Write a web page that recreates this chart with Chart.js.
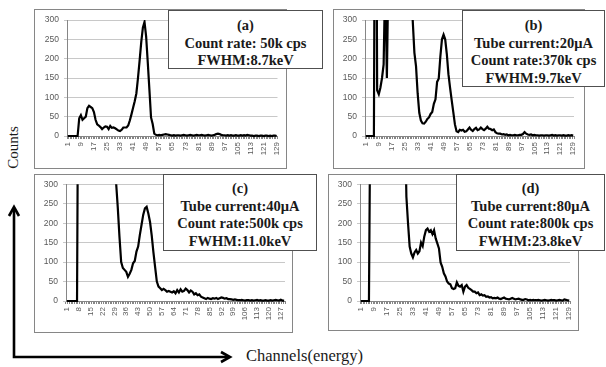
<!DOCTYPE html>
<html><head><meta charset="utf-8">
<script src="https://cdn.jsdelivr.net/npm/chart.js@4"></script>
<style>
html,body{margin:0;padding:0;background:#fff}
body{width:606px;height:367px;overflow:hidden;position:relative;font-family:'Liberation Serif',serif}
.frame{position:absolute;border:1px solid #868686;box-sizing:border-box;background:#fff}
.frame canvas{position:absolute;left:0;top:0}
.lbl{position:absolute;border:1px solid #505050;box-sizing:border-box;background:#fff;text-align:center;font-weight:bold;font-size:14.5px;font-family:'Liberation Serif',serif;color:#1a1a1a;line-height:17.6px;white-space:nowrap}
.axt{position:absolute;font-family:'Liberation Serif',serif;font-size:16px;color:#1a1a1a;white-space:nowrap}
svg{position:absolute;left:0;top:0}
</style></head>
<body>
<script>
// ---- data ----
const channels = Array.from({length:129},(_,i)=>String(i+1));
const ticks8 = ['1','9','17','25','33','41','49','57','65','73','81','89','97','105','113','121','129'];
const ticks7 = ['1','8','15','22','29','36','43','50','57','64','71','78','85','92','99','106','113','120','127'];
const yTicks = [0,50,100,150,200,250,300];

const dataA = [
0,0,0,0,0,0,0,46,54,42,
46,50,72,78,75,72,62,42,30,27,
23,18,22,25,24,18,26,21,22,20,
17,14,13,16,22,22,22,27,40,56,
73,90,110,150,195,243,280,295,257,190,
120,48,31,6,3,2,3,2,3,4,
5,4,3,2,1,2,1,2,2,1,
2,3,2,1,2,3,2,1,2,3,
2,2,3,2,1,2,3,2,1,2,
3,5,6,5,3,2,2,1,2,1,
2,1,1,2,1,1,2,1,2,1,
3,2,1,1,0,1,1,0,1,1,
0,1,1,0,1,0,1,1,0];
const dataB = [
0,0,0,0,0,0,1200,118,108,125,
150,185,420,150,450,900,1400,1800,2000,1900,
1700,1500,1200,1000,800,650,500,420,380,295,
215,180,110,60,40,33,32,37,44,48,
57,62,83,95,140,148,205,250,262,250,
212,160,125,93,62,30,12,10,16,14,
16,11,12,17,22,16,13,18,21,15,
17,22,18,15,19,24,19,18,15,17,
10,7,6,6,4,5,3,4,2,3,
2,2,3,2,2,3,3,5,10,6,
4,3,4,2,3,2,2,1,2,2,
1,2,2,1,2,3,1,2,1,2,
2,1,2,1,1,2,1,2,1];
const dataC = [
0,0,0,0,0,0,0,900,1500,2000,
2500,2800,3000,2900,2700,2500,2200,2000,1800,1600,
1400,1200,1050,900,800,700,650,620,600,305,
240,165,100,85,80,75,62,70,80,97,
103,127,140,170,196,222,238,242,225,203,
168,125,87,50,37,33,28,31,28,24,
26,24,22,25,20,28,22,30,24,26,
32,28,22,27,24,17,20,15,17,11,
9,7,5,8,6,5,7,6,8,5,
7,9,8,6,7,5,5,4,3,4,
3,2,2,3,2,1,2,2,1,2,
1,2,3,1,2,1,1,2,1,1,
2,1,2,3,2,1,3,1,1];
const dataD = [
0,0,0,0,0,0,600,1200,1800,2400,
2800,3000,3100,3000,2800,2600,2300,2000,1800,1500,
1300,1100,950,800,700,600,540,500,268,200,
140,122,112,125,131,122,128,150,141,166,
182,186,178,182,172,182,161,148,135,99,
88,71,63,50,45,43,33,31,33,48,
39,37,41,24,37,41,34,31,28,24,
24,20,22,15,17,14,15,11,12,9,
10,7,8,7,9,6,5,7,9,6,
5,4,6,8,6,4,5,6,4,3,
3,5,4,2,3,2,3,2,2,3,
2,1,2,3,2,1,2,3,2,2,
1,2,3,2,1,4,3,2,1];

const labelA = ['(a)','Count rate: 50k cps','FWHM:8.7keV'];
const labelB = ['(b)','Tube current:20\u03bcA','Count rate:370k cps','FWHM:9.7keV'];
const labelC = ['(c)','Tube current:40\u03bcA','Count rate:500k cps','FWHM:11.0keV'];
const labelD = ['(d)','Tube current:80\u03bcA','Count rate:800k cps','FWHM:23.8keV'];

// ---- layout ----
const panels = [
  {data:dataA, ticks:ticks8, frame:[34,9,253,160], plot:[67,20,277.5,136], label:labelA, box:[168,10,155,59], pad:6},
  {data:dataB, ticks:ticks8, frame:[333,9,252,160], plot:[365,20,574,136], label:labelB, box:[462,10,143,77], pad:6},
  {data:dataC, ticks:ticks7, frame:[34,174,259,159], plot:[66,184.3,285,301], label:labelC, box:[163,174,154,77], pad:5},
  {data:dataD, ticks:ticks8, frame:[328,174,251,157], plot:[360,184.3,570,301], label:labelD, box:[456,174,149,77], pad:5}
];

panels.forEach(p=>{
  const [fx,fy,fw,fh] = p.frame;
  const [pl,pt,pr,pb] = p.plot;
  const div = document.createElement('div');
  div.className='frame';
  div.style.left=fx+'px'; div.style.top=fy+'px'; div.style.width=fw+'px'; div.style.height=fh+'px';
  const cv = document.createElement('canvas');
  cv.width = fw-2; cv.height = fh-2;
  cv.style.width=(fw-2)+'px'; cv.style.height=(fh-2)+'px';
  div.appendChild(cv);
  document.body.appendChild(div);
  const yW = pl-(fx+1);
  const xH = (fy+fh-1)-pb;
  const tickSet = new Set(p.ticks);
  new Chart(cv,{
    type:'line',
    data:{labels:channels, datasets:[{data:p.data, borderColor:'#000', borderWidth:2.2, pointRadius:0, tension:0, fill:false, clip:{left:3,top:0,right:3,bottom:3}}]},
    options:{
      responsive:false, animation:false, devicePixelRatio:1,
      plugins:{legend:{display:false}, tooltip:{enabled:false}},
      layout:{padding:{left:0,bottom:0,top:pt-(fy+1),right:(fx+fw-1)-pr}},
      scales:{
        x:{
          offset:true,
          grid:{display:true, drawOnChartArea:false, drawTicks:true, tickLength:3, color:'#868686', offset:true},
          border:{display:true,color:'#868686',width:1},
          ticks:{autoSkip:false, maxRotation:90, minRotation:90, padding:3, color:'#595959',
                 font:{family:'Liberation Sans', size:8},
                 callback:function(v,i){const l=channels[i]; return tickSet.has(l)?l:'';}},
          afterFit:function(s){s.height=xH; s.paddingLeft=0; s.paddingRight=0;}
        },
        y:{
          min:0, max:300,
          afterBuildTicks:function(s){s.ticks=yTicks.map(v=>({value:v}));},
          grid:{color:'#c8c8c8', tickLength:3, drawTicks:true},
          border:{display:true,color:'#868686',width:1},
          ticks:{padding:5, color:'#595959', font:{family:'Liberation Sans', size:8.5}},
          afterFit:function(s){s.width=yW; s.paddingTop=0; s.paddingBottom=0;}
        }
      }
    }
  });
  const b = document.createElement('div');
  b.className='lbl';
  const [bx,by,bw,bh]=p.box;
  b.style.left=bx+'px'; b.style.top=by+'px'; b.style.width=bw+'px'; b.style.height=bh+'px';
  b.style.paddingTop=p.pad+'px';
  b.innerHTML = p.label.map(s=>'<div>'+s+'</div>').join('');
  document.body.appendChild(b);
});

// axis captions
const cnt = document.createElement('div');
cnt.className='axt'; cnt.textContent='Counts';
cnt.style.fontSize='15px';
cnt.style.left='-12px'; cnt.style.top='139px'; cnt.style.width='50px'; cnt.style.textAlign='center';
cnt.style.transform='rotate(-90deg)';
document.body.appendChild(cnt);
const ch = document.createElement('div');
ch.className='axt'; ch.textContent='Channels(energy)';
ch.style.fontSize='16.5px';
ch.style.left='246px'; ch.style.top='346px';
document.body.appendChild(ch);
</script>
<svg width="606" height="367" viewBox="0 0 606 367">
  <g stroke="#000" stroke-width="2.6" fill="none" stroke-linejoin="miter">
    <polyline points="14,208 14,357 229,357"/>
    <polyline points="9,216 14,207 19,216"/>
    <polyline points="221,352 230,357 221,362"/>
  </g>
</svg>
</body></html>
